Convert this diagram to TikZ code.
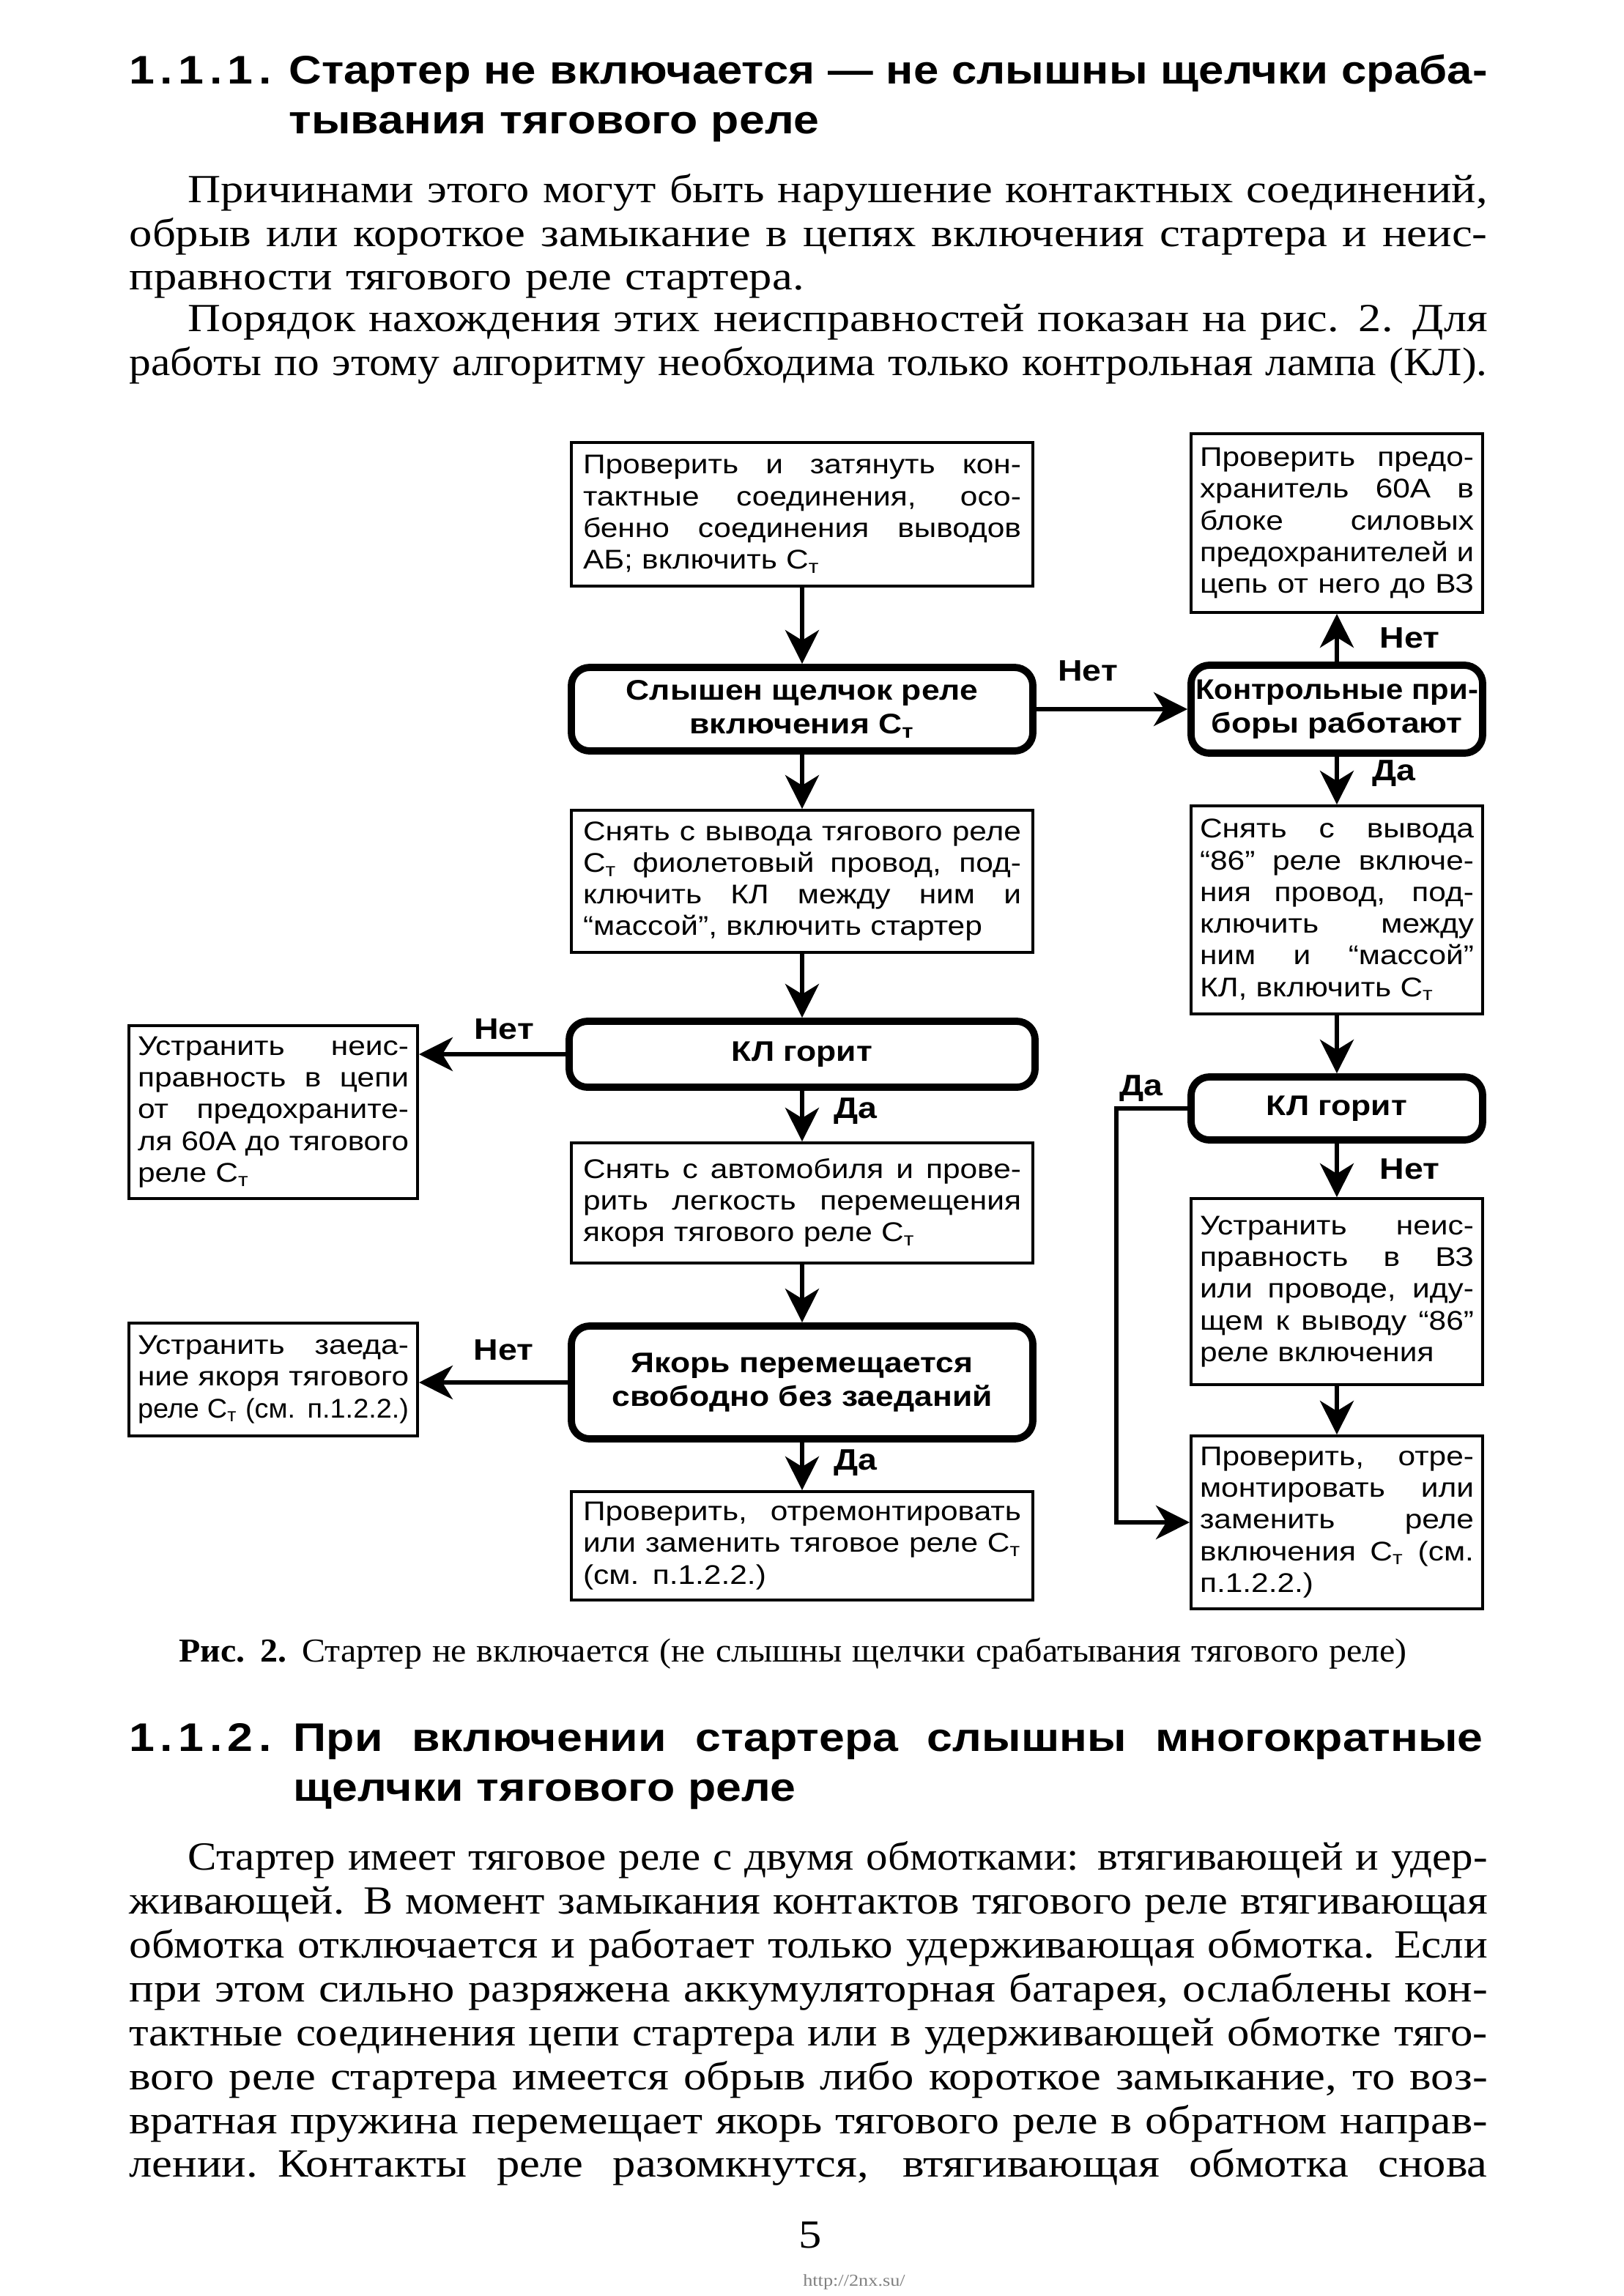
\documentclass[tikz,border=0pt]{standalone}
\usepackage{fontspec}
\setmainfont{Liberation Serif}[FakeStretch=1.15]
\newfontfamily\dsans{Liberation Sans}[FakeStretch=1.15]
\newfontfamily\hsans{Liberation Sans}[FakeStretch=1.15]
\usepackage{tikz}
\usetikzlibrary{positioning, arrows.meta}

\newcommand{\bodyfont}{\fontsize{15.5}{17.07}\selectfont}
\newcommand{\capfont}{\fontsize{13}{14}\selectfont}
\newcommand{\headfont}{\hsans\bfseries\fontsize{15.5}{19.35}\selectfont}
\newcommand{\boxfont}{\dsans\fontsize{10.5}{12.3}\selectfont}
\newcommand{\testfont}{\dsans\bfseries\fontsize{11}{13}\selectfont}
\newcommand{\lblfont}{\dsans\bfseries\fontsize{11.5}{12}\selectfont}
\newcommand{\Cst}{С\textsubscript{т}}

\newsavebox{\jlbox}
\newlength{\jlwd}
\newcommand{\fitline}[2]{\sbox{\jlbox}{#2}\ifdim\wd\jlbox>#1\relax\resizebox{#1}{\height}{#2}\else\makebox[#1][s]{\spaceskip=\fontdimen2\font plus 1fil\relax#2}\fi}
\newcommand{\squeeze}[2]{\sbox{\jlbox}{#2}\ifdim\wd\jlbox>#1\relax\resizebox{#1}{\height}{#2}\else#2\fi}
\newcommand{\jl}[1]{\fitline{\hsize}{#1}}
\newcommand{\jli}[1]{\hspace*{0.8cm}\setlength{\jlwd}{\hsize}\addtolength{\jlwd}{-0.8cm}\fitline{\jlwd}{#1}}

\begin{document}
\begin{tikzpicture}[
  every node/.style={inner sep=0pt},
  actbox/.style={draw, line width=1.1pt, font=\boxfont, align=left, inner ysep=0.1cm},
  mainbox/.style={actbox, text width=5.98cm, inner xsep=0.16cm},
  sidebox/.style={actbox, text width=3.74cm, inner xsep=0.12cm},
  testbox/.style={draw, line width=2.8pt, rounded corners=0.25cm, font=\testfont, align=center},
  arr/.style={-{Stealth[length=4.6mm, width=4.6mm, inset=1.4mm]}, line width=1.8pt},
  lbl/.style={font=\lblfont, inner sep=1pt},
  txt/.style={anchor=base west, align=left}
]
\path[use as bounding box, fill=white] (0,0) rectangle (22.16,-31.34);

% Page text above the figure
\node[txt, font=\headfont] (num1) at (1.76,-1.14) {\makebox[1.94cm][s]{1\hfil.\hfil1\hfil.\hfil1\hfil.}};
\node[txt, font=\headfont, text width=16.36cm] (head1) at (3.94,-1.14)
  {\jl{Стартер не включается — не слышны щелчки сраба-}\\тывания тягового реле};
\node[txt, font=\bodyfont, text width=18.54cm] (causes) at (1.76,-2.76)
  {\jli{Причинами этого могут быть нарушение контактных соединений,}\\
   \jl{обрыв или короткое замыкание в цепях включения стартера и неис-}\\
   правности тягового реле стартера.};
\node[txt, font=\bodyfont, text width=18.54cm] (order) at (1.76,-4.52)
  {\jli{Порядок нахождения этих неисправностей показан на рис. 2. Для}\\
   \jl{работы по этому алгоритму необходима только контрольная лампа (КЛ).}};

% Define the nodes
\node[mainbox, minimum height=1.96cm] (tighten) at (10.95,-7.02)
  {\jl{Проверить и затянуть кон-}\\\jl{тактные соединения, осо-}\\\jl{бенно соединения выводов}\\АБ; включить \Cst};
\node[testbox, minimum width=6.30cm, minimum height=1.14cm] (click) at (10.95,-9.68)
  {Слышен щелчок реле\\включения \Cst};
\node[mainbox, minimum height=1.94cm] (probe) at (10.95,-12.03)
  {\jl{Снять с вывода тягового реле}\\\jl{\Cst{} фиолетовый провод, под-}\\\jl{ключить КЛ между ним и}\\“массой”, включить стартер};
\node[testbox, minimum width=6.36cm, minimum height=0.90cm] (lamp) at (10.95,-14.39) {КЛ горит};
\node[mainbox, minimum height=1.64cm] (remove) at (10.95,-16.42)
  {\jl{Снять с автомобиля и прове-}\\\jl{рить легкость перемещения}\\якоря тягового реле \Cst};
\node[testbox, minimum width=6.30cm, minimum height=1.54cm] (armature) at (10.95,-18.87)
  {Якорь перемещается\\свободно без заеданий};
\node[mainbox, minimum height=1.48cm] (relayfix) at (10.95,-21.10)
  {\jl{Проверить, отремонтировать}\\\jl{или заменить тяговое реле \Cst}\\(см. п.1.2.2.)};

\node[sidebox, text width=3.70cm, minimum height=2.36cm] (fusefix) at (3.73,-15.18)
  {\jl{Устранить неис-}\\\jl{правность в цепи}\\\jl{от предохраните-}\\\jl{ля 60А до тягового}\\реле \Cst};
\node[sidebox, text width=3.70cm, minimum height=1.54cm] (jamfix) at (3.73,-18.83)
  {\jl{Устранить заеда-}\\\jl{ние якоря тягового}\\\jl{реле \Cst{} (см. п.1.2.2.)}};

\node[sidebox, minimum height=2.44cm] (fuse) at (18.25,-7.14)
  {\jl{Проверить предо-}\\\jl{хранитель 60А в}\\\jl{блоке силовых}\\\jl{предохранителей и}\\\jl{цепь от него до ВЗ}};
\node[testbox, minimum width=3.98cm, minimum height=1.20cm] (gauges) at (18.25,-9.68)
  {\squeeze{3.86cm}{Контрольные при-}\\боры работают};
\node[sidebox, minimum height=2.84cm] (pin) at (18.25,-12.42)
  {\jl{Снять с вывода}\\\jl{“86” реле включе-}\\\jl{ния провод, под-}\\\jl{ключить между}\\\jl{ним и “массой”}\\КЛ, включить \Cst};
\node[testbox, minimum width=3.98cm, minimum height=0.86cm] (lamp2) at (18.25,-15.13) {КЛ горит};
\node[sidebox, minimum height=2.54cm] (wirefix) at (18.25,-17.63)
  {\jl{Устранить неис-}\\\jl{правность в ВЗ}\\\jl{или проводе, иду-}\\\jl{щем к выводу “86”}\\реле включения};
\node[sidebox, minimum height=2.36cm] (switchfix) at (18.25,-20.78)
  {\jl{Проверить, отре-}\\\jl{монтировать или}\\\jl{заменить реле}\\\jl{включения \Cst{} (см.}\\п.1.2.2.)};
\coordinate (bend) at (15.24,-15.13);

% Draw the arrows
\draw[arr] (tighten) -- (click);
\draw[arr] (click.east) -- node[lbl, pos=0.34, above=0.31cm] {Нет} (click.east -| gauges.west);
\draw[arr] (gauges) -- node[lbl, midway, right=0.52cm] {Нет} (fuse);
\draw[arr] (gauges) -- node[lbl, pos=0.35, right=0.42cm] {Да} (pin);
\draw[arr] (click) -- (probe);
\draw[arr] (probe) -- (lamp);
\draw[arr] (lamp.west) -- node[lbl, pos=0.42, above=0.13cm] {Нет} (lamp.west -| fusefix.east);
\draw[arr] (lamp) -- node[lbl, pos=0.4, right=0.37cm] {Да} (remove);
\draw[arr] (remove) -- (armature);
\draw[arr] (armature.west) -- node[lbl, pos=0.43, above=0.23cm] {Нет} (armature.west -| jamfix.east);
\draw[arr] (armature) -- node[lbl, pos=0.42, right=0.37cm] {Да} (relayfix);
\draw[arr] (pin) -- (lamp2);
\draw[arr] (lamp2) -- node[lbl, pos=0.47, right=0.52cm] {Нет} (wirefix);
\draw[arr] (wirefix) -- (switchfix);
\draw[arr] (lamp2.west) -- node[lbl, pos=0.65, above=0.03cm] {Да} (bend) |- (switchfix.west);

% Caption and the text below
\node[txt, font=\capfont, text width=16.76cm] (caption) at (2.44,-22.68)
  {\jl{\textbf{Рис. 2.} Стартер не включается (не слышны щелчки срабатывания тягового реле)}};
\node[txt, font=\headfont] (num2) at (1.76,-23.90) {\makebox[1.94cm][s]{1\hfil.\hfil1\hfil.\hfil2\hfil.}};
\node[txt, font=\headfont, text width=16.24cm] (head2) at (4.00,-23.90)
  {\jl{При включении стартера слышны многократные}\\щелчки тягового реле};
\node[txt, font=\bodyfont, text width=18.54cm] (windings) at (1.76,-25.52)
  {\jli{Стартер имеет тяговое реле с двумя обмотками: втягивающей и удер-}\\
   \jl{живающей. В момент замыкания контактов тягового реле втягивающая}\\
   \jl{обмотка отключается и работает только удерживающая обмотка. Если}\\
   \jl{при этом сильно разряжена аккумуляторная батарея, ослаблены кон-}\\
   \jl{тактные соединения цепи стартера или в удерживающей обмотке тяго-}\\
   \jl{вого реле стартера имеется обрыв либо короткое замыкание, то воз-}\\
   \jl{вратная пружина перемещает якорь тягового реле в обратном направ-}\\
   \jl{лении. Контакты реле разомкнутся, втягивающая обмотка снова}};
\node[anchor=base, font=\bodyfont] (pagenum) at (11.06,-30.68) {5};
\node[anchor=base, font=\fontsize{6.5}{8}\selectfont, text=gray] (url) at (11.66,-31.20) {http://2nx.su/};
\end{tikzpicture}
\end{document}
